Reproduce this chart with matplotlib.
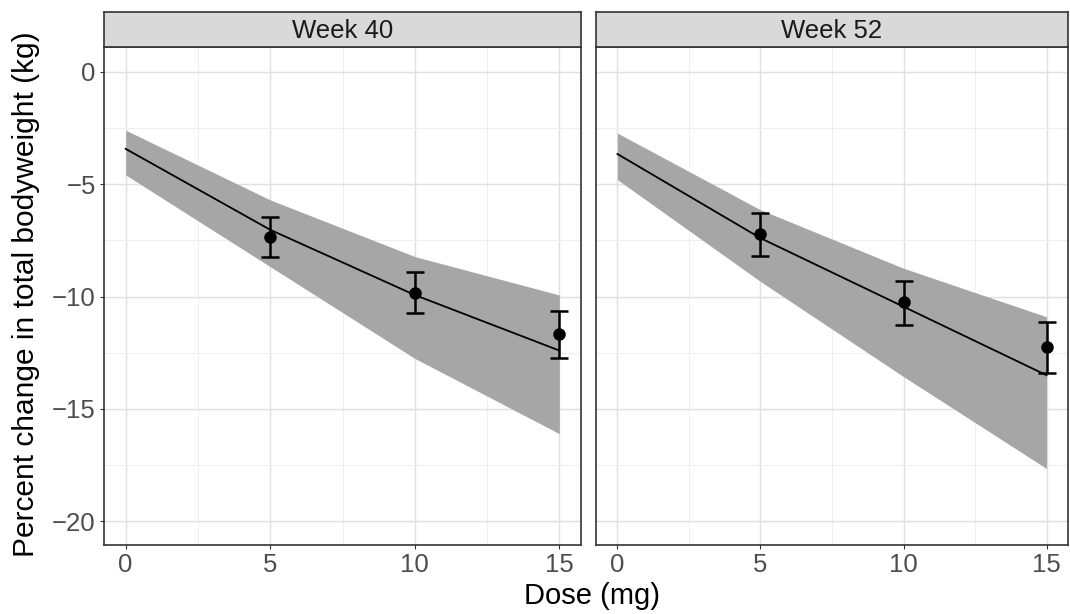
import numpy as np
import matplotlib.pyplot as plt
from matplotlib.ticker import MultipleLocator

plt.rcParams['font.family'] = ['Liberation Sans', 'DejaVu Sans']

# dose grid for the model curve and ribbon
dose_grid = [0, 5, 10, 15]

# Week 40
w40_fit = [-3.43, -7.03, -9.93, -12.4]
w40_upper = [-2.6, -5.7, -8.22, -9.93]
w40_lower = [-4.59, -8.67, -12.75, -16.1]
w40_obs = [-7.33, -9.82, -11.68]
w40_obs_hi = [-6.47, -8.92, -10.63]
w40_obs_lo = [-8.25, -10.75, -12.75]

# Week 52
w52_fit = [-3.66, -7.4, -10.45, -13.5]
w52_upper = [-2.73, -6.14, -8.74, -10.9]
w52_lower = [-4.8, -9.33, -13.56, -17.65]
w52_obs = [-7.23, -10.22, -12.26]
w52_obs_hi = [-6.29, -9.3, -11.15]
w52_obs_lo = [-8.19, -11.26, -13.42]

obs_dose = [5, 10, 15]

panels = [
    ("Week 40", w40_fit, w40_upper, w40_lower, w40_obs, w40_obs_hi, w40_obs_lo),
    ("Week 52", w52_fit, w52_upper, w52_lower, w52_obs, w52_obs_hi, w52_obs_lo),
]

fig = plt.figure(figsize=(10.7, 6.14), dpi=100)
lefts = [104 / 1070, 596 / 1070]
widths = [477 / 1070, 472 / 1070]
bottom = 1 - 545 / 614
height = (545 - 47) / 614
strip_h = 35 / 614

for i, (title, fit, up, lo, obs, hi, lw) in enumerate(panels):
    ax = fig.add_axes([lefts[i], bottom, widths[i], height])
    ax.fill_between(dose_grid, lo, up, color='#a6a6a6', linewidth=0, zorder=2)
    ax.plot(dose_grid, fit, color='black', linewidth=1.3, zorder=3)
    obs_a = np.array(obs)
    yerr = [obs_a - np.array(lw), np.array(hi) - obs_a]
    ax.errorbar(obs_dose, obs, yerr=yerr, fmt='o', color='black', markersize=8,
                capsize=6.5, elinewidth=1.8, capthick=1.8, zorder=4)
    ax.set_xlim(-0.75, 15.75)
    ax.set_ylim(-21.05, 1.1)
    ax.xaxis.set_major_locator(MultipleLocator(5))
    ax.xaxis.set_minor_locator(MultipleLocator(2.5))
    ax.yaxis.set_major_locator(MultipleLocator(5))
    ax.yaxis.set_minor_locator(MultipleLocator(2.5))
    ax.grid(which='major', color='#e0e0e0', linewidth=1.0, zorder=0)
    ax.grid(which='minor', color='#efefef', linewidth=0.7, zorder=0)
    ax.set_axisbelow(True)
    for s in ax.spines.values():
        s.set_color('#333333')
        s.set_linewidth(1.2)
    ax.tick_params(which='major', labelsize=18.5, colors='#333333', length=3,
                   labelcolor='#4d4d4d', pad=3)
    ax.tick_params(which='minor', length=0)
    if i == 1:
        ax.tick_params(axis='y', labelleft=False, length=0)

    sax = fig.add_axes([lefts[i], bottom + height, widths[i], strip_h])
    sax.set_facecolor('#d9d9d9')
    sax.set_xticks([])
    sax.set_yticks([])
    for s in sax.spines.values():
        s.set_color('#333333')
        s.set_linewidth(1.2)
    sax.text(0.5, 0.47, title, ha='center', va='center', fontsize=18.5,
             color='#1a1a1a', transform=sax.transAxes)

fig.text(592 / 1070, 1 - 596 / 614, "Dose (mg)", ha='center', va='center', fontsize=21)
fig.text(26 / 1070, 1 - 294 / 614, "Percent change in total bodyweight (kg)", ha='center',
         va='center', rotation=90, fontsize=21.5)

fig.savefig("out.png", dpi=100)
